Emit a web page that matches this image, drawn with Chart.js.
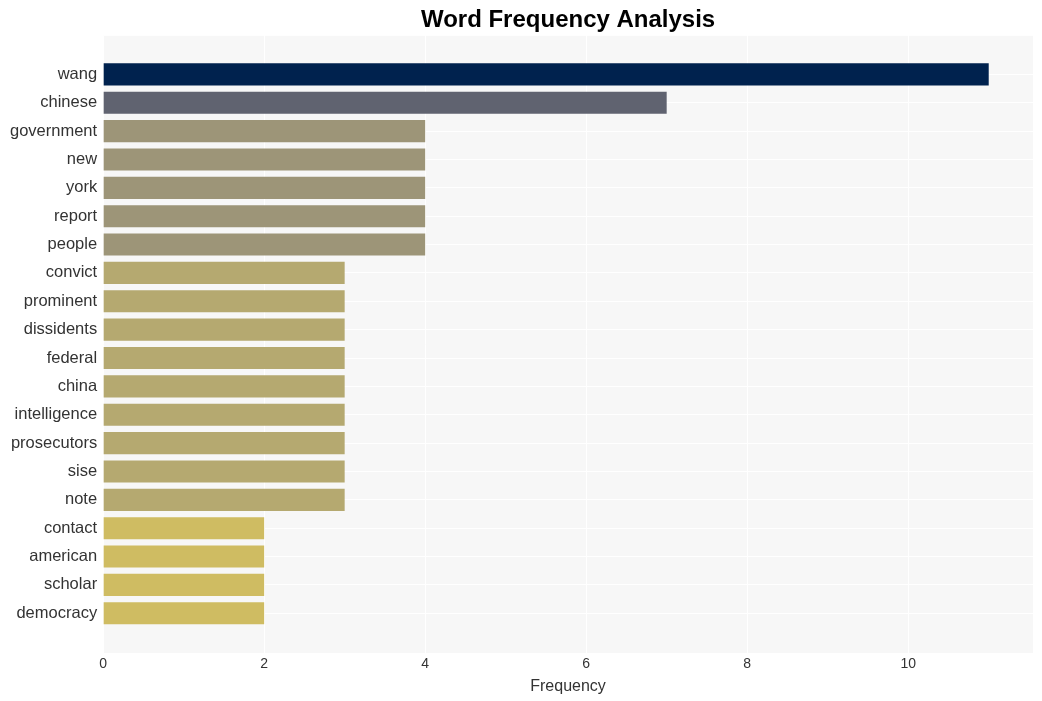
<!DOCTYPE html>
<html>
<head>
<meta charset="utf-8">
<script src="https://cdn.jsdelivr.net/npm/chart.js@4"></script>
<style>
  html, body { margin: 0; padding: 0; background: #fff; }
  #wrap { width: 1042px; height: 701px; }
</style>
</head>
<body>
<div id="wrap"><canvas id="chart"></canvas></div>
<script>
const words = ["wang", "chinese", "government", "new", "york", "report", "people", "convict", "prominent", "dissidents", "federal", "china", "intelligence", "prosecutors", "sise", "note", "contact", "american", "scholar", "democracy"];
const counts = [11, 7, 4, 4, 4, 4, 4, 3, 3, 3, 3, 3, 3, 3, 3, 3, 2, 2, 2, 2];
const xTicks = [0, 2, 4, 6, 8, 10];

// cividis-like shades by count
const colorFor = (v) => {
  if (v >= 11) return "#00224e";
  if (v >= 7) return "#606370";
  if (v >= 4) return "#9d9578";
  if (v >= 3) return "#b5a970";
  return "#cfbc62";
};

const plotBg = {
  id: "plotBg",
  beforeDraw(chart) {
    const { ctx, chartArea: a } = chart;
    ctx.save();
    ctx.fillStyle = "#f7f7f7";
    ctx.fillRect(a.left, a.top, a.right - a.left, a.bottom - a.top);
    ctx.restore();
  },
};

const font = "'Liberation Sans', Arial, sans-serif";

new Chart(document.getElementById("chart"), {
  type: "bar",
  data: {
    datasets: [
      {
        data: words.map((w, i) => ({ x: counts[i], y: i })),
        backgroundColor: counts.map(colorFor),
        borderWidth: 0,
        barPercentage: 0.78,
        categoryPercentage: 1,
      },
    ],
  },
  options: {
    indexAxis: "y",
    responsive: true,
    maintainAspectRatio: false,
    animation: false,
    layout: { padding: { left: 4, right: 9, top: 0, bottom: 5 } },
    plugins: {
      legend: { display: false },
      tooltip: { enabled: false },
      title: {
        display: true,
        text: "Word Frequency Analysis",
        fullSize: false,
        color: "#000",
        font: { family: font, size: 24, weight: "bold" },
        padding: { top: 6, bottom: 1 },
      },
    },
    scales: {
      x: {
        type: "linear",
        min: 0,
        max: 11.55,
        afterBuildTicks: (s) => {
          s.ticks = xTicks.map((v) => ({ value: v }));
        },
        grid: { color: "#ffffff", lineWidth: 1, drawTicks: false },
        border: { display: false },
        ticks: {
          color: "#333",
          font: { family: font, size: 14 },
          padding: 3,
        },
        title: {
          display: true,
          text: "Frequency",
          color: "#333",
          font: { family: font, size: 16 },
          padding: { top: 1, bottom: 0 },
        },
      },
      y: {
        type: "linear",
        reverse: true,
        offset: false,
        min: -1.36,
        max: 20.4,
        afterBuildTicks: (s) => {
          s.ticks = words.map((w, i) => ({ value: i }));
        },
        grid: { color: "#ffffff", lineWidth: 1, drawTicks: false, offset: false },
        border: { display: false },
        ticks: {
          color: "#333",
          font: { family: font, size: 16.5 },
          padding: 6,
          autoSkip: false,
          callback: (v) => words[v] ?? "",
        },
      },
    },
  },
  plugins: [plotBg],
});
</script>
</body>
</html>
